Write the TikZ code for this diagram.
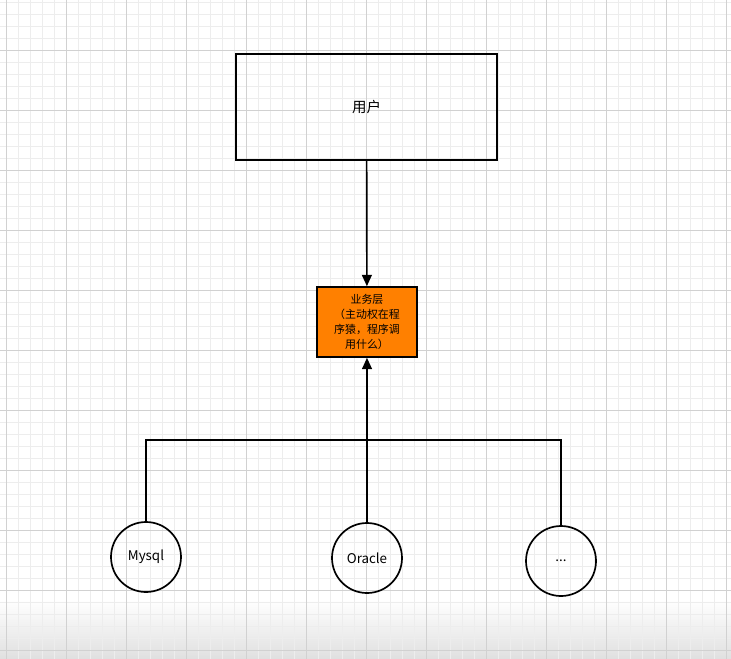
\documentclass[tikz,border=0pt]{standalone}
\usepackage{fontspec}
\setmainfont{Noto Sans CJK SC}
\usetikzlibrary{positioning, arrows.meta}
\definecolor{layerorange}{HTML}{FF8000}

\begin{document}
\begin{tikzpicture}[
    box/.style={draw, line width=1.2pt, align=center, inner sep=0pt},
    db/.style={draw, circle, line width=1.2pt, minimum size=1.75cm, inner sep=0pt,
               font=\fontsize{9.5}{11}\selectfont},
    link/.style={line width=1.2pt},
    arrow/.style={line width=1.2pt, -{Triangle[length=8pt, width=7pt]}}
]

% Canvas 731x658 px, 1px = 0.025cm
\useasboundingbox (0,0) rectangle (18.275,-16.45);
\shade[top color=white, bottom color=black!12] (0,-15.0) rectangle (18.275,-16.45);

% Background grid (minor every 12px, major every 60px)
\begin{scope}
\clip (0,0) rectangle (18.275,-16.45);
\begin{scope}[shift={(0.1675,-1.25)}]
\draw[black!7, line width=0.4pt, step=0.3] (-1.5,-16.5) grid (19.5,1.5);
\draw[black!18, line width=0.5pt, step=1.5] (-1.5,-16.5) grid (19.5,1.5);
\end{scope}
\end{scope}

% Layers
\node[box, minimum width=6.525cm, minimum height=2.65cm,
      font=\fontsize{10.3}{12}\selectfont] (user) at (9.1625,-2.675) {用户};
\node[box, fill=layerorange, minimum width=2.5cm, minimum height=1.75cm,
      font=\fontsize{7.8}{10.6}\selectfont] (service) at (9.175,-8.05)
      {业务层\\（主动权在程\\序猿，程序调\\用什么）};

% Databases
\node[db] (mysql) at (3.65,-13.925) {Mysql};
\node[db] (oracle) at (9.175,-13.95) {Oracle};
\node[db] (more) at (14.025,-14.025) {...};
\coordinate (hub) at (9.175,-11.0);

% Connectors
\draw[arrow] (user) -- (service);
\draw[arrow] (hub) -- (service);
\draw[link] (mysql.north) |- (hub);
\draw[link] (oracle.north) -- (hub);
\draw[link] (more.north) |- (hub);

\end{tikzpicture}
\end{document}
